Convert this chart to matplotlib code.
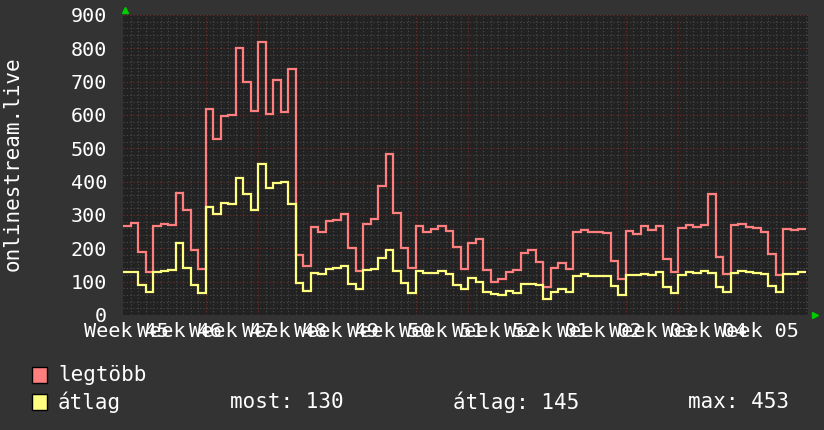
import matplotlib.pyplot as plt
import matplotlib.patches as patches
import numpy as np

# daily values, first day = day 3 counted from the start of week 45
legtobb = [267, 275, 190, 129, 267, 274, 271, 367, 315, 196, 139, 618, 529, 597, 600,
           802, 698, 612, 818, 602, 706, 610, 739, 181, 148, 264, 250, 281, 286, 302,
           200, 132, 273, 287, 387, 482, 307, 200, 142, 267, 249, 257, 267, 252,
           205, 137, 217, 229, 135, 99, 107, 129, 135, 187, 196, 160, 83, 141, 157,
           139, 250, 255, 250, 250, 247, 163, 109, 252, 242, 267, 255, 267, 167, 129,
           262, 271, 265, 271, 362, 175, 123, 271, 274, 265, 260, 249, 184, 121, 259, 255, 259]
atlag = [130, 130, 91, 69, 129, 132, 136, 217, 142, 91, 67, 324, 304, 335, 332,
         412, 364, 314, 453, 382, 397, 400, 332, 96, 72, 126, 124, 139, 142, 148,
         92, 78, 135, 138, 172, 195, 132, 97, 67, 132, 127, 127, 132, 123,
         90, 79, 112, 99, 70, 64, 60, 73, 66, 94, 94, 91, 49, 69, 77,
         70, 117, 124, 118, 118, 118, 87, 60, 121, 121, 124, 121, 130, 85, 67,
         121, 129, 126, 133, 127, 85, 69, 126, 133, 129, 126, 124, 88, 70, 124, 124, 130]
week_labels = ['45', '46', '47', '48', '49', '50', '51', '52', '01', '02', '03', '04', '05']
start_day = 3
legend_stats = {'most': 130, 'átlag': 145, 'max': 453}

mono = 'DejaVu Sans Mono'
plt.rcParams['font.family'] = mono

W, H = 824, 430
fig = plt.figure(figsize=(8.24, 4.30), dpi=100, facecolor='#333333')
ax = fig.add_axes([123 / W, 115 / H, 685 / W, 300 / H])
ax.set_facecolor('#222222')

edges = start_day + np.arange(len(legtobb) + 1)
end_day = start_day + 91.33
ax.set_xlim(start_day, end_day)
ax.set_ylim(0, 900)

# grid: days / 20 units minor, weeks / 100 units major
for d in range(start_day + 1, int(end_day) + 1):
    if d % 7 == 0:
        continue
    ax.axvline(d, color='#4a4a4a', lw=0.8, ls=(0, (1, 2)), zorder=1)
for v in range(20, 900, 20):
    if v % 100 == 0:
        continue
    ax.axhline(v, color='#4a4a4a', lw=0.8, ls=(0, (1, 2)), zorder=1)
for d in range(7, int(end_day) + 1, 7):
    ax.axvline(d, color='#7a2a2a', lw=0.8, ls=(0, (1, 2)), zorder=1.5)
for v in range(100, 901, 100):
    ax.axhline(v, color='#7a2a2a', lw=0.8, ls=(0, (1, 2)), zorder=1.5)

ax.stairs(legtobb, edges, color='#ff7f7f', lw=1.6, zorder=3, baseline=None)
ax.stairs(atlag, edges, color='#ffff7f', lw=1.6, zorder=4, baseline=None)

for s in ax.spines.values():
    s.set_visible(False)

ax.set_yticks(range(0, 901, 100))
ax.set_xticks([7 * i + 3.5 for i in range(len(week_labels))],
              ['Week ' + w for w in week_labels])
ax.tick_params(axis='both', length=0, colors='white', labelsize=14.5)
ax.tick_params(axis='y', pad=11.5)
ax.tick_params(axis='x', pad=5)

fig.text(13 / W, 1 - 164 / H, 'onlinestream.live', color='white', fontsize=15,
         rotation=90, ha='center', va='center')

# green arrow heads
ax.plot([0.003], [1.017], marker='^', color='#00cc00', ms=5, transform=ax.transAxes, clip_on=False)
ax.plot([1.010], [0.0], marker='>', color='#00cc00', ms=5, transform=ax.transAxes, clip_on=False)

# legend
rows = [('legtöbb', '#ff7f7f', 375), ('átlag', '#ffff7f', 402)]
for name, col, yc in rows:
    fig.patches.append(patches.Rectangle((32 / W, 1 - (yc + 8) / H), 15 / W, 16 / H,
                                         transform=fig.transFigure, facecolor=col,
                                         edgecolor='black', lw=1))
    fig.text(58 / W, 1 - yc / H, name, color='white', fontsize=15, va='center')

fig.text(230 / W, 1 - 402 / H, 'most: %d' % legend_stats['most'], color='white', fontsize=15, va='center')
fig.text(453 / W, 1 - 402 / H, 'átlag: %d' % legend_stats['átlag'], color='white', fontsize=15, va='center')
fig.text(688 / W, 1 - 402 / H, 'max: %d' % legend_stats['max'], color='white', fontsize=15, va='center')

fig.savefig('out.png', dpi=100, facecolor=fig.get_facecolor())
